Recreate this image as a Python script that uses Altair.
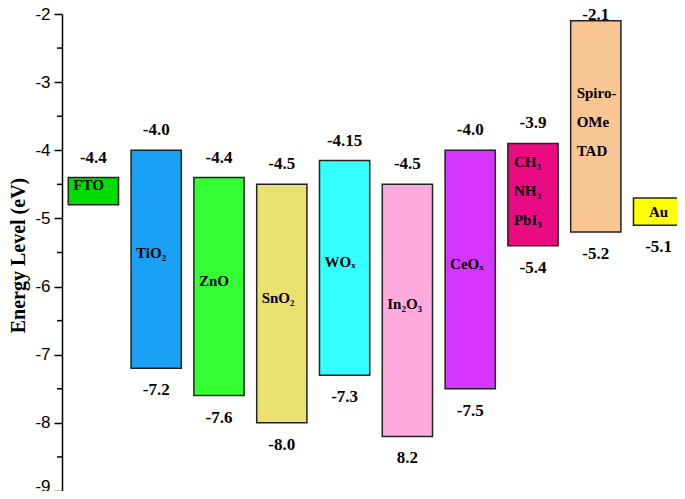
import altair as alt
import pandas as pd

materials = ["FTO", "TiO2", "ZnO", "SnO2", "WOx", "In2O3", "CeOx",
             "CH3NH3PbI3", "Spiro-OMeTAD", "Au"]
inner_labels = ["FTO", "TiO₂", "ZnO", "SnO₂", "WOₓ", "In₂O₃", "CeOₓ",
                "CH₃\nNH₃\nPbI₃", "Spiro-\nOMe\nTAD", "Au"]
tops = [-4.4, -4.0, -4.4, -4.5, -4.15, -4.5, -4.0, -3.9, -2.1, -4.7]
bottoms = [-4.8, -7.2, -7.6, -8.0, -7.3, -8.2, -7.5, -5.4, -5.2, -5.1]
top_labels = ["-4.4", "-4.0", "-4.4", "-4.5", "-4.15", "-4.5", "-4.0", "-3.9", "-2.1", ""]
bottom_labels = ["", "-7.2", "-7.6", "-8.0", "-7.3", "8.2", "-7.5", "-5.4", "-5.2", "-5.1"]
colors = ["#00dc00", "#1aa0f5", "#33ff33", "#ebe16e", "#33ffff", "#ffaadc",
          "#d535ff", "#ea0a82", "#f9c592", "#ffff00"]
y_ticks = [-9, -8, -7, -6, -5, -4, -3, -2]
y_minor = [-8.5, -7.5, -6.5, -5.5, -4.5, -3.5, -2.5]

df = pd.DataFrame({
    "material": materials,
    "inner": inner_labels,
    "top": tops,
    "bottom": bottoms,
    "top_label": top_labels,
    "bottom_label": bottom_labels,
    "color": colors,
    "idx": list(range(len(materials))),
})

W = 615
xscale = alt.Scale(domain=[-0.5, -0.5 + W / 62.8], nice=False, zero=False)
yscale = alt.Scale(domain=[-9, -2], nice=False, zero=False)

base = alt.Chart(df).transform_calculate(
    xl="datum.idx - 0.4", xr="datum.idx + 0.4",
    mid="(datum.top + datum.bottom) / 2",
    nlines="length(split(datum.inner, '\\n'))"
)

bars = base.mark_rect(stroke="#222222", strokeWidth=1.5).encode(
    x=alt.X("xl:Q", scale=xscale, axis=None),
    x2="xr:Q",
    y=alt.Y("top:Q", scale=yscale, axis=alt.Axis(
        values=y_ticks, labelExpr="'' + datum.value", grid=False,
        labelFont="Liberation Sans", labelFontSize=17, labelColor="black",
        labelBaseline={"condition": {"test": "datum.value == -9", "value": "alphabetic"},
                       "value": "middle"},
        labelPadding=4, tickSize=8, tickWidth=1.5, tickColor="black",
        domainColor="black", domainWidth=1.5,
        title="Energy Level (eV)", titleFont="Liberation Serif",
        titleFontSize=20, titleFontWeight="bold", titleColor="black",
        titleX=-34, titleY=241)),
    y2="bottom:Q",
    fill=alt.Color("color:N", scale=None),
)

minor = alt.Chart(pd.DataFrame({"v": y_minor})).mark_rule(
    color="black", strokeWidth=1.5).encode(
    y=alt.Y("v:Q", scale=yscale),
    x=alt.value(-5), x2=alt.value(0))

val_font = dict(font="Liberation Serif", fontWeight="bold", fontSize=17, color="black")

top_text = base.transform_filter("datum.top_label != '' && datum.top < -3").mark_text(
    baseline="middle", dy=-20, **val_font).encode(
    x=alt.X("idx:Q", scale=xscale), y=alt.Y("top:Q", scale=yscale), text="top_label:N")

top_text_hi = base.transform_filter("datum.top_label != '' && datum.top >= -3").mark_text(
    baseline="alphabetic", dy=-1, **val_font).encode(
    x=alt.X("idx:Q", scale=xscale), y=alt.Y("top:Q", scale=yscale), text="top_label:N")

bottom_text = base.transform_filter("datum.bottom_label != ''").mark_text(
    baseline="middle", dy=22, **val_font).encode(
    x=alt.X("idx:Q", scale=xscale), y=alt.Y("bottom:Q", scale=yscale), text="bottom_label:N")

in_font = dict(font="Liberation Serif", fontWeight="bold", fontSize=15, color="black",
               lineHeight=29, baseline="middle")

inner_text = base.transform_filter(
    "datum.material != 'Au' && datum.nlines == 1").mark_text(
    align="left", dx=5, dy=-6, **in_font).encode(
    x=alt.X("xl:Q", scale=xscale), y=alt.Y("mid:Q", scale=yscale), text="inner:N")

inner_multi = base.transform_filter("datum.nlines > 1").mark_text(
    align="left", dx=6, dy=-33, lineBreak="\n", **in_font).encode(
    x=alt.X("xl:Q", scale=xscale), y=alt.Y("mid:Q", scale=yscale), text="inner:N")

inner_au = base.transform_filter("datum.material == 'Au'").mark_text(
    align="center", **in_font).encode(
    x=alt.X("idx:Q", scale=xscale), y=alt.Y("mid:Q", scale=yscale), text="inner:N")

chart = alt.layer(bars, minor, top_text, top_text_hi, bottom_text,
                  inner_text, inner_multi, inner_au).properties(
    width=W, height=477,
    autosize=alt.AutoSizeParams(type="none"),
    padding={"left": 54, "top": 6, "right": 0, "bottom": 0},
    background="white",
).configure_view(stroke="transparent")

chart.save("out.html", embed_options={"renderer": "svg", "actions": False})
